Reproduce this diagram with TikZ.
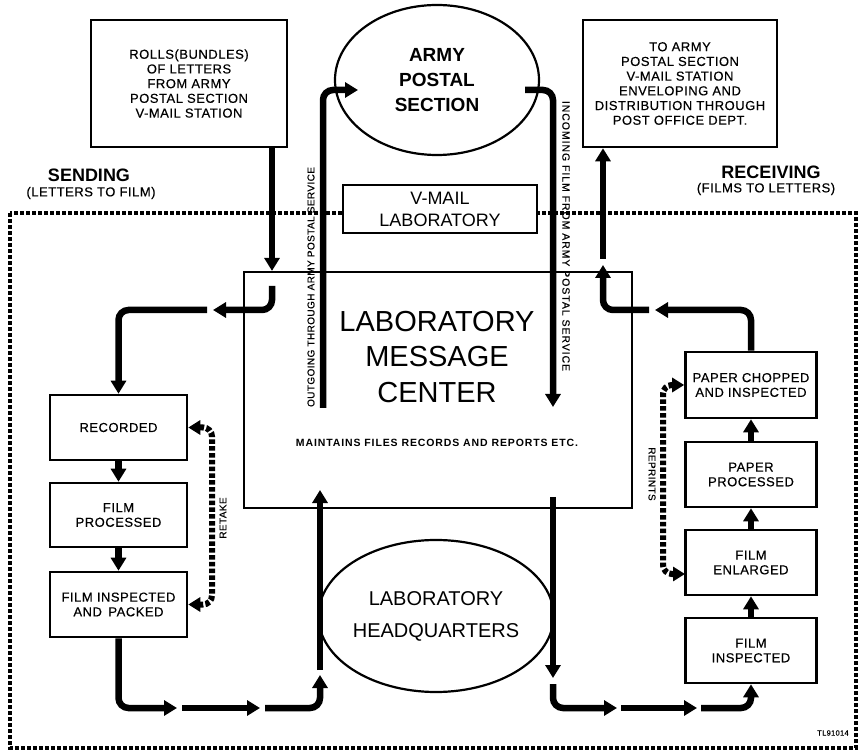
\documentclass[tikz,border=0pt]{standalone}
\usepackage{fontspec}
\setmainfont{Liberation Sans}
\newfontfamily\lett[LetterSpace=4,FakeBold=0.4]{Liberation Sans}
\newfontfamily\lettx[LetterSpace=9,FakeBold=0.4]{Liberation Sans}
\newfontfamily\lettw[LetterSpace=8.5]{Liberation Sans}
\usetikzlibrary{shapes.geometric,arrows.meta}
\begin{document}
\begin{tikzpicture}[x=1pt,y=-1pt,
  boxst/.style={draw, line width=2.6pt, align=center, inner sep=0pt,
    font=\lett\fontsize{13}{14.7}\selectfont},
  ellst/.style={draw, ellipse, line width=2.2pt, align=center, inner sep=0pt,
    minimum width=204pt, minimum height=150pt},
  arr/.style={line width=6.5pt, -{Triangle[length=13pt,width=15pt]}, rounded corners=10pt},
  darr/.style={line width=6pt, dash pattern=on 4.5pt off 2.3pt,
    {Triangle[length=12pt,width=14pt]}-{Triangle[length=12pt,width=14pt]}, rounded corners=9pt},
  border/.style={line width=3.5pt, dash pattern=on 4pt off 2pt},
  lab/.style={inner sep=0pt, font=\lett\fontsize{10}{12}\selectfont},
  head/.style={inner sep=0pt, font=\bfseries\fontsize{18}{20}\selectfont},
  sub/.style={inner sep=0pt, font=\lett\fontsize{13}{14}\selectfont}
]
\useasboundingbox (0,0) rectangle (863,751);
\fill[white] (0,0) rectangle (863,751);

% dotted frame
\draw[border] (10,213) rectangle (856,748);

% message center
\node[draw, line width=2.2pt, minimum width=388pt, minimum height=236pt, inner sep=0pt] (lmc) at (438,390) {};
\node[inner sep=0pt, align=center, font=\fontsize{29}{35.5}\selectfont] (lmctitle) at (437,357) {LABORATORY\\MESSAGE\\CENTER};
\node[inner sep=0pt, font=\lettw\bfseries\fontsize{10.5}{12}\selectfont] (lmcnote) at (437,443) {MAINTAINS FILES RECORDS AND REPORTS ETC.};

% top boxes
\node[boxst, minimum width=196pt, minimum height=127pt] (rolls) at (189,83.5)
  {ROLLS(BUNDLES)\\OF LETTERS\\FROM ARMY\\POSTAL SECTION\\V-MAIL STATION};
\node[boxst, minimum width=194pt, minimum height=127pt] (toarmy) at (680,83.5)
  {TO ARMY\\POSTAL SECTION\\V-MAIL STATION\\ENVELOPING AND\\DISTRIBUTION THROUGH\\POST OFFICE DEPT.};
\node[ellst, font=\bfseries\fontsize{19}{25}\selectfont] (aps) at (437,80) {ARMY\\POSTAL\\SECTION};
\node[draw, fill=white, line width=2.4pt, minimum width=194pt, minimum height=48pt, inner sep=0pt,
  align=center, font=\fontsize{18}{22}\selectfont] (vmail) at (440,209) {V-MAIL\\LABORATORY};

% headings
\node[head] (sending) at (89,175) {SENDING};
\node[sub] (sendsub) at (91,193) {(LETTERS TO FILM)};
\node[head] (receiving) at (771,172) {RECEIVING};
\node[sub] (recsub) at (766,189) {(FILMS TO LETTERS)};

% left column
\node[boxst, minimum width=137pt, minimum height=65pt] (recorded) at (118.5,427.5) {RECORDED};
\node[boxst, minimum width=137pt, minimum height=64pt] (fp) at (118.5,515) {FILM\\PROCESSED};
\node[boxst, minimum width=137pt, minimum height=65pt] (fip) at (118.5,604.5) {FILM INSPECTED\\AND\enspace PACKED};

% right column
\node[boxst, minimum width=131pt, minimum height=66pt] (pc) at (751,385) {PAPER CHOPPED\\AND INSPECTED};
\node[boxst, minimum width=131pt, minimum height=65pt] (pp) at (751,474.5) {PAPER\\PROCESSED};
\node[boxst, minimum width=131pt, minimum height=65pt] (fe) at (751,562.5) {FILM\\ENLARGED};
\node[boxst, minimum width=131pt, minimum height=65pt] (fi) at (751,650.5) {FILM\\INSPECTED};

% headquarters
\node[ellst, minimum height=152pt, font=\fontsize{20}{32}\selectfont] (lhq) at (436,616) {LABORATORY\\HEADQUARTERS};

% rotated labels
\node[lab, rotate=90] (outlab) at (311,287) {OUTGOING THROUGH ARMY POSTAL SERVICE};
\node[inner sep=0pt, font=\lettx\fontsize{10.5}{12}\selectfont, rotate=-90] (inlab) at (566,236) {INCOMING FILM FROM ARMY POSTAL SERVICE};
\node[lab, rotate=90] (retlab) at (223,518) {RETAKE};
\node[lab, rotate=-90] (replab) at (652,474) {REPRINTS};
\node[inner sep=0pt, font=\lett\fontsize{7.5}{8}\selectfont] (tl) at (833,733) {TL91014};

% waypoints
\coordinate (L1a) at (272,286);
\coordinate (L1b) at (213,310);
\coordinate (L2a) at (207,310);
\coordinate (B1b) at (177,708);
\coordinate (B2a) at (182,708);
\coordinate (B2b) at (260,708);
\coordinate (B3a) at (265,708);
\coordinate (B3b) at (320,675);
\coordinate (B4a) at (320,670);
\coordinate (B4b) at (320,490);
\coordinate (O1a) at (323,408);
\coordinate (O1b) at (358,90);
\coordinate (I1a) at (525,90);
\coordinate (I1b) at (553,407);
\coordinate (R1a) at (553,497);
\coordinate (R1b) at (553,678);
\coordinate (R2a) at (553,684);
\coordinate (R2b) at (617,708);
\coordinate (R3a) at (621,708);
\coordinate (R3b) at (697,708);
\coordinate (R4a) at (701,708);
\coordinate (T1b) at (655,310);
\coordinate (T2a) at (649,310);
\coordinate (T2b) at (603,265);
\coordinate (T3a) at (603,259);
\coordinate (RTc) at (212,500);
\coordinate (RPc) at (663,480);
\coordinate (RPe) at (685,574);

% sending flow
\draw[arr] (rolls.south -| L1a) -- (lmc.north -| L1a);
\draw[arr] (L1a) |- (L1b);
\draw[arr] (L2a) -| (recorded.north);
\draw[arr] (recorded.south) -- (fp.north);
\draw[arr] (fp.south) -- (fip.north);
\draw[darr] (recorded.east) -| (RTc) |- (fip.east);
\draw[arr] (fip.south) |- (B1b);
\draw[arr] (B2a) -- (B2b);
\draw[arr] (B3a) -| (B3b);
\draw[arr] (B4a) -- (B4b);
\draw[arr] (O1a) |- (O1b);

% receiving flow
\draw[arr] (I1a) -| (I1b);
\draw[arr] (R1a) -- (R1b);
\draw[arr] (R2a) |- (R2b);
\draw[arr] (R3a) -- (R3b);
\draw[arr] (R4a) -| (fi.south);
\draw[arr] (fi.north) -- (fe.south);
\draw[arr] (fe.north) -- (pp.south);
\draw[arr] (pp.north) -- (pc.south);
\draw[darr] (pc.west) -| (RPc) |- (RPe);
\draw[arr] (pc.north) |- (T1b);
\draw[arr] (T2a) -| (T2b);
\draw[arr] (T3a) -- (toarmy.south -| T3a);
\end{tikzpicture}
\end{document}
